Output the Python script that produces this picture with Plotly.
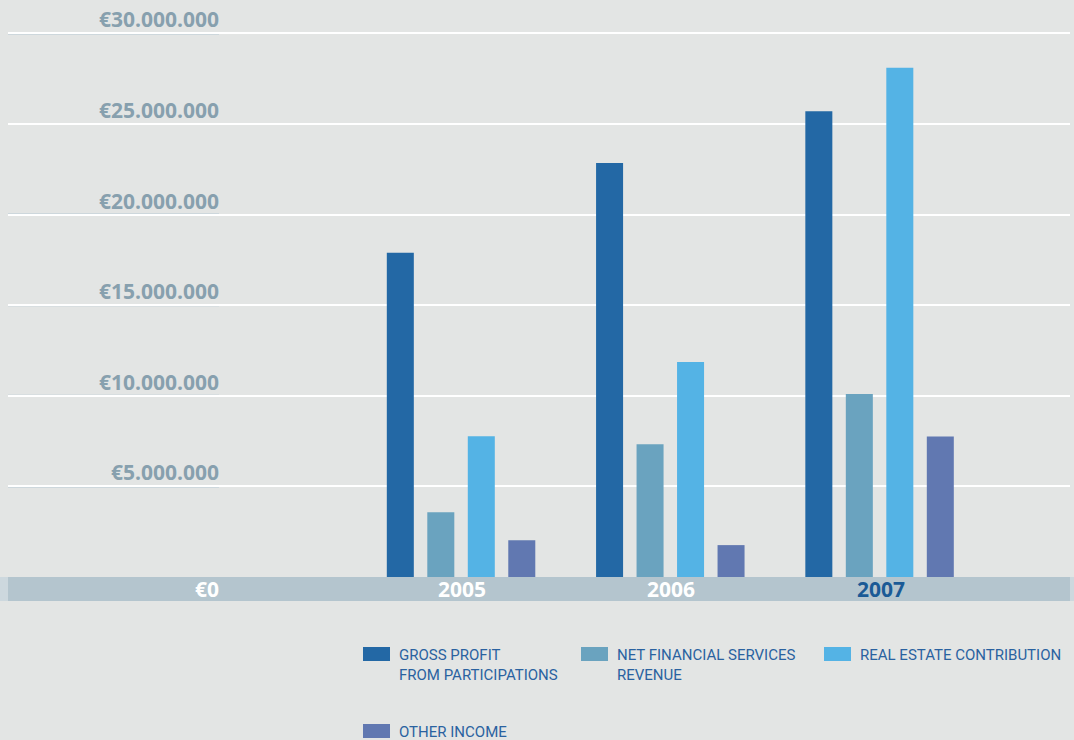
import plotly.graph_objects as go

# Revenue breakdown per year (euros)
years = ["2005", "2006", "2007"]
series_names = [
    "GROSS PROFIT<br>FROM PARTICIPATIONS",
    "NET FINANCIAL SERVICES<br>REVENUE",
    "REAL ESTATE CONTRIBUTION",
    "OTHER INCOME",
]
gross_profit = [17900000, 22850000, 25700000]
net_financial = [3580000, 7330000, 10100000]
real_estate = [7770000, 11860000, 28100000]
other_income = [2030000, 1760000, 7760000]

tick_values = [5000000, 10000000, 15000000, 20000000, 25000000, 30000000]
tick_labels = ["€5.000.000", "€10.000.000", "€15.000.000",
               "€20.000.000", "€25.000.000", "€30.000.000"]
zero_label = "€0"

colors = ["#2368a5", "#6aa3bf", "#54b3e5", "#6178b1"]
bg = "#e3e5e4"
band_color = "#b4c5ce"
label_color = "#87a0ae"
legend_text_color = "#2a62a0"

W, H = 1074, 740
ML, MR, MT, MB = 8, 4, 10, 139
plot_w = W - ML - MR
plot_h = H - MT - MB


def px_x(px):
    return (px - ML) / plot_w


def px_y(py):
    return (H - MB - py) / plot_h


# value scale: 90.6 px per 5M, zero line 24 px above plot bottom
per_px = 5000000 / 90.6
y_min = -24 * per_px
y_max = y_min + plot_h * per_px

fig = go.Figure()
for name, vals, col in zip(series_names, [gross_profit, net_financial, real_estate, other_income], colors):
    fig.add_trace(go.Bar(x=years, y=vals, name=name, marker=dict(color=col, line=dict(width=0)),
                         showlegend=False, hoverinfo="x+y"))

shapes = []
# grey band carrying the zero label and year labels
shapes.append(dict(type="rect", xref="paper", yref="y", x0=0, x1=1, y0=y_min, y1=0,
                   fillcolor=band_color, line=dict(width=0), layer="below"))
shapes.append(dict(type="rect", xref="paper", yref="y", x0=px_x(0), x1=0, y0=y_min, y1=0,
                   fillcolor="#cdd8de", line=dict(width=0), layer="below"))
shapes.append(dict(type="rect", xref="paper", yref="y", x0=1, x1=px_x(W), y0=y_min, y1=0,
                   fillcolor="#cdd8de", line=dict(width=0), layer="below"))
# tinted stubs of the gridlines under the value labels
for v in tick_values:
    shapes.append(dict(type="line", xref="paper", yref="y", x0=0, x1=px_x(219), y0=v, y1=v,
                       line=dict(color="#b8c9d3", width=2), layer="below"))

label_font = dict(family="Open Sans", size=21, color=label_color, weight="bold")
annotations = []
for v, t in zip(tick_values, tick_labels):
    annotations.append(dict(x=px_x(221), xref="paper", y=v, yref="y", text=t, showarrow=False,
                            xanchor="right", yanchor="bottom", yshift=-2, font=label_font))
annotations.append(dict(x=px_x(221), xref="paper", y=y_min / 2, yref="y", text=zero_label,
                        showarrow=False, xanchor="right", yanchor="middle",
                        font=dict(label_font, color="white")))
for i, yr in enumerate(years):
    annotations.append(dict(x=i, xref="x", y=y_min / 2, yref="y", text=yr, showarrow=False,
                            xanchor="center", yanchor="middle", xshift=1,
                            font=dict(label_font,
                                      color="#1a5a96" if i == len(years) - 1 else "white")))

# hand-placed legend
legend_pos = [(363, 647), (581, 647), (824, 647), (363, 724)]
for (lx, ly), name, col in zip(legend_pos, series_names, colors):
    shapes.append(dict(type="rect", xref="paper", yref="paper", x0=px_x(lx), x1=px_x(lx + 27),
                       y0=px_y(ly), y1=px_y(ly + 14), fillcolor=col, line=dict(width=0)))
    annotations.append(dict(x=px_x(lx + 35), xref="paper", y=px_y(ly - 2), yref="paper",
                            text=name, showarrow=False, xanchor="left", yanchor="top", align="left",
                            borderpad=0,
                            font=dict(family="Roboto", size=15, color=legend_text_color)))

fig.update_layout(
    width=W, height=H,
    margin=dict(l=ML, r=MR, t=MT, b=MB),
    paper_bgcolor=bg, plot_bgcolor=bg,
    barmode="group", bargap=0.226, bargroupgap=0.333,
    xaxis=dict(type="category", range=[-2.165, 2.91], showticklabels=False, showgrid=False,
               zeroline=False, showline=False, ticks=""),
    yaxis=dict(range=[y_min, y_max], tickvals=tick_values, showticklabels=False,
               showgrid=True, gridcolor="white", gridwidth=2, zeroline=False, showline=False, ticks=""),
    shapes=shapes, annotations=annotations,
)

fig.write_html("out.html")
